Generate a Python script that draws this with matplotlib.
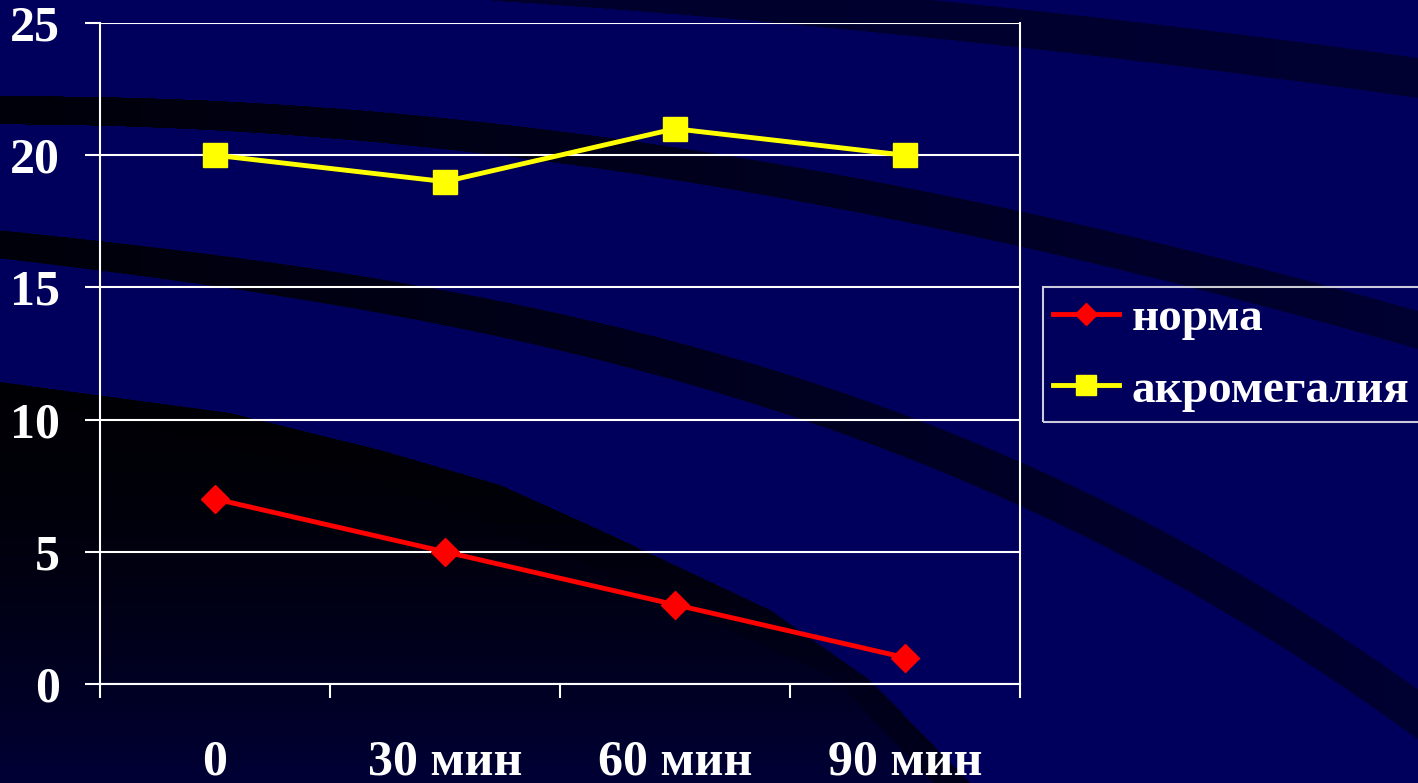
#!/usr/bin/env python3

import numpy as np
import matplotlib
matplotlib.use('Agg')
from matplotlib import pyplot as plt

categories = ['0', '30 мин', '60 мин', '90 мин']
norma = [7, 5, 3, 1]
akromegaliya = [20, 19, 21, 20]
series_labels = ['норма', 'акромегалия']
y_ticks = [0, 5, 10, 15, 20, 25]

W, H = 1418, 783
NAVY = 92.0


def band(blue, xx, yy, pts, thick, shade, xmin=0):
    # dark curved stripe of the slide template
    px, py = zip(*pts)
    coef = np.polyfit(px, py, min(3, len(px) - 1))
    cy = np.polyval(coef, xx)
    th = np.interp(xx, [0, W], thick)
    mask = (np.abs(yy - cy) < th / 2) & (xx > xmin)
    sh = np.interp(xx, [0, W], shade)
    blue[mask] = sh[mask]


def make_background():
    xx, yy = np.meshgrid(np.arange(W) + 0.5, np.arange(H) + 0.5)
    blue = np.full((H, W), NAVY)

    band(blue, xx, yy, [(600, -10), (1017, 28), (1418, 78)], [34, 40], [40, 50], xmin=350)
    band(blue, xx, yy, [(0, 110), (100, 112), (600, 152), (900, 205), (1020, 228), (1418, 330)],
         [28, 38], [10, 50])
    band(blue, xx, yy, [(0, 243), (100, 258), (600, 339), (900, 436), (1020, 490), (1100, 515), (1418, 715)],
         [28, 50], [10, 50])

    # dark lower-left area
    outer = np.interp(xx, [0, 230, 380, 500, 600, 770, 870, 970, 1070],
                      [382, 413, 450, 485, 530, 610, 680, 783, 900])
    inner = np.interp(xx, [0, 100, 382, 534, 600, 833, 933, 1033],
                      [400, 417, 483, 543, 570, 677, 783, 890])
    in_outer = yy > outer
    in_inner = yy > inner
    t = np.clip((yy - 420) / (H - 420), 0, 1)
    grad = 6 + 48 * t ** 1.6
    ring = in_outer & ~in_inner
    blue[ring] = (np.minimum(grad, 34) * 0.8)[ring]
    blue[in_inner] = grad[in_inner]

    img = np.zeros((H, W, 3))
    img[..., 2] = blue / 255
    return img


def draw_chart():
    plt.rcParams['font.family'] = ['Liberation Serif', 'DejaVu Serif']
    plt.rcParams['font.weight'] = 'bold'

    fig = plt.figure(figsize=(W / 100, H / 100), dpi=100)

    bg = fig.add_axes([0, 0, 1, 1], zorder=-1)
    bg.imshow(make_background(), extent=[0, W, H, 0], aspect='auto', interpolation='bilinear')
    bg.axis('off')

    ax = fig.add_axes([100 / W, 1 - 684 / H, 920 / W, 661 / H])
    ax.patch.set_alpha(0)

    x = np.arange(len(categories))
    ax.plot(x, norma, color='#FF0000', lw=3.5, marker='D', ms=14.5,
            label=series_labels[0], zorder=3, clip_on=False)
    ax.plot(x, akromegaliya, color='#FFFF00', lw=3.5, marker='s', ms=17,
            label=series_labels[1], zorder=3, clip_on=False)

    ax.set_xlim(-0.5, len(categories) - 0.5)
    ax.set_ylim(0, 25)
    ax.set_yticks(y_ticks)
    ax.yaxis.grid(True, color='white', lw=1.5)
    ax.set_axisbelow(True)

    ax.set_xticks(x)
    ax.set_xticklabels(categories)
    ax.set_xticks(np.arange(-0.5, len(categories)), minor=True)
    ax.tick_params(axis='x', which='major', length=0, pad=40, labelsize=36, labelcolor='white')
    ax.tick_params(axis='x', which='minor', length=10, width=1.5, color='white', direction='out')
    ax.tick_params(axis='y', length=11, width=1.5, color='white', pad=18, labelsize=36, labelcolor='white')

    ax.spines['top'].set_visible(False)
    for side in ('left', 'right', 'bottom'):
        ax.spines[side].set_color('white')
        ax.spines[side].set_linewidth(1.5)

    leg = ax.legend(loc='upper left', bbox_to_anchor=(1043 / W, 1 - 287 / H),
                    bbox_transform=fig.transFigure, fontsize=34, handlelength=1.38,
                    handletextpad=0.28, borderpad=0.22, labelspacing=0.6,
                    borderaxespad=0, fancybox=False, edgecolor='white',
                    facecolor='none', labelcolor='white')
    leg.get_frame().set_linewidth(1.5)
    leg.legend_handles[0].set_markersize(11)
    leg.legend_handles[1].set_markersize(15)

    fig.savefig('out.png', dpi=100, facecolor=(0, 0, NAVY / 255))


if __name__ == '__main__':
    draw_chart()
